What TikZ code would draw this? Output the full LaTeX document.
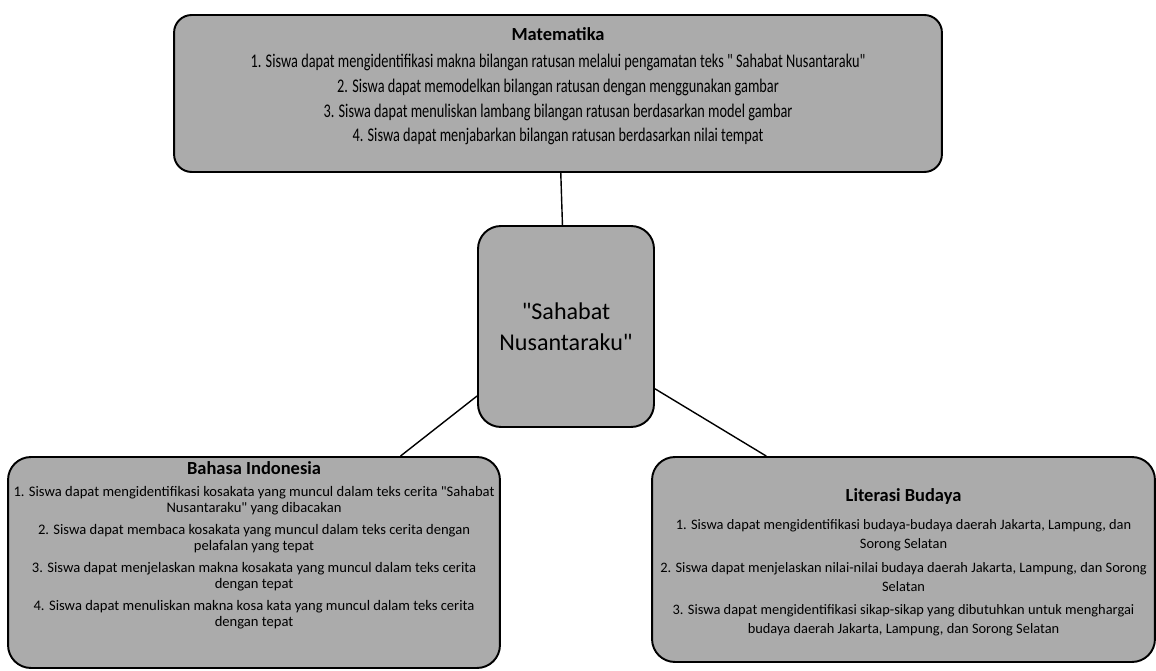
\documentclass[tikz,border=0pt]{standalone}
\usepackage{fontspec}
\setmainfont{Carlito}[Ligatures=TeXOff]
\newfontfamily\narrowfont[FakeStretch=0.74]{Carlito}
\usetikzlibrary{positioning}
\definecolor{boxgray}{HTML}{ABABAB}

\begin{document}
\begin{tikzpicture}[
  x=0.02cm, y=-0.02cm,      % one unit is one pixel of the sketch, y runs down
  goalbox/.style={draw, fill=boxgray, line width=1.1pt, rounded corners=13pt},
  goaltext/.style={align=center, inner sep=0pt},
  link/.style={line width=0.8pt},
  every node/.style={font=\fontsize{8.3}{9.1}\selectfont}
]
\useasboundingbox (0,0) rectangle (1156,671);

% --- boxes
\node[goalbox, minimum width=15.36cm, minimum height=3.14cm, rounded corners=10pt] (mat) at (558,93.5) {};
\node[goalbox, minimum width=3.52cm, minimum height=4.02cm] (tema) at (566,326.5) {};
\node[goalbox, minimum width=9.84cm, minimum height=4.22cm] (bindo) at (254,562.5) {};
\node[goalbox, minimum width=10.06cm, minimum height=4.10cm] (litbud) at (903.5,559.5) {};

% --- texts
\node[goaltext, font=\narrowfont\fontsize{11}{14.1}\selectfont] (mattext) at (558,86.5) {%
  {\normalfont\fontsize{10.5}{12}\selectfont\bfseries Matematika}\\[1.2pt]
  1. Siswa dapat mengidentifikasi makna bilangan ratusan melalui pengamatan teks " Sahabat Nusantaraku"\\
  2. Siswa dapat memodelkan bilangan ratusan dengan menggunakan gambar\\
  3. Siswa dapat menuliskan lambang bilangan ratusan berdasarkan model gambar\\
  4. Siswa dapat menjabarkan bilangan ratusan berdasarkan nilai tempat};

\node[goaltext, font=\fontsize{13.7}{17.5}\selectfont] (tematext) at (tema.center) {"Sahabat\\Nusantaraku"};

\node[goaltext] (bindotext) at (254,545) {%
  {\fontsize{10.5}{12}\selectfont\bfseries Bahasa Indonesia}\\[3.4pt]
  1. Siswa dapat mengidentifikasi kosakata yang muncul dalam teks cerita "Sahabat\\
  Nusantaraku" yang dibacakan\\[3.4pt]
  2. Siswa dapat membaca kosakata yang muncul dalam teks cerita dengan\\
  pelafalan yang tepat\\[3.4pt]
  3. Siswa dapat menjelaskan makna kosakata yang muncul dalam teks cerita\\
  dengan tepat\\[3.4pt]
  4. Siswa dapat menuliskan makna kosa kata yang muncul dalam teks cerita\\
  dengan tepat};

\node[goaltext, font=\fontsize{8.2}{10.8}\selectfont] (litbudtext) at (903.5,562) {%
  {\fontsize{10.5}{12}\selectfont\bfseries Literasi Budaya}\\[5.5pt]
  1. Siswa dapat mengidentifikasi budaya-budaya daerah Jakarta, Lampung, dan\\
  Sorong Selatan\\[2.5pt]
  2. Siswa dapat menjelaskan nilai-nilai budaya daerah Jakarta, Lampung, dan Sorong\\
  Selatan\\[2.5pt]
  3. Siswa dapat mengidentifikasi sikap-sikap yang dibutuhkan untuk menghargai\\
  budaya daerah Jakarta, Lampung, dan Sorong Selatan};

% ===== connectors =====
\draw[link] (mat.272) -- (tema.92);
\draw[link] (tema.218) -- (bindo.36);
\draw[link] (tema.325) -- (litbud.143);

\end{tikzpicture}
\end{document}
